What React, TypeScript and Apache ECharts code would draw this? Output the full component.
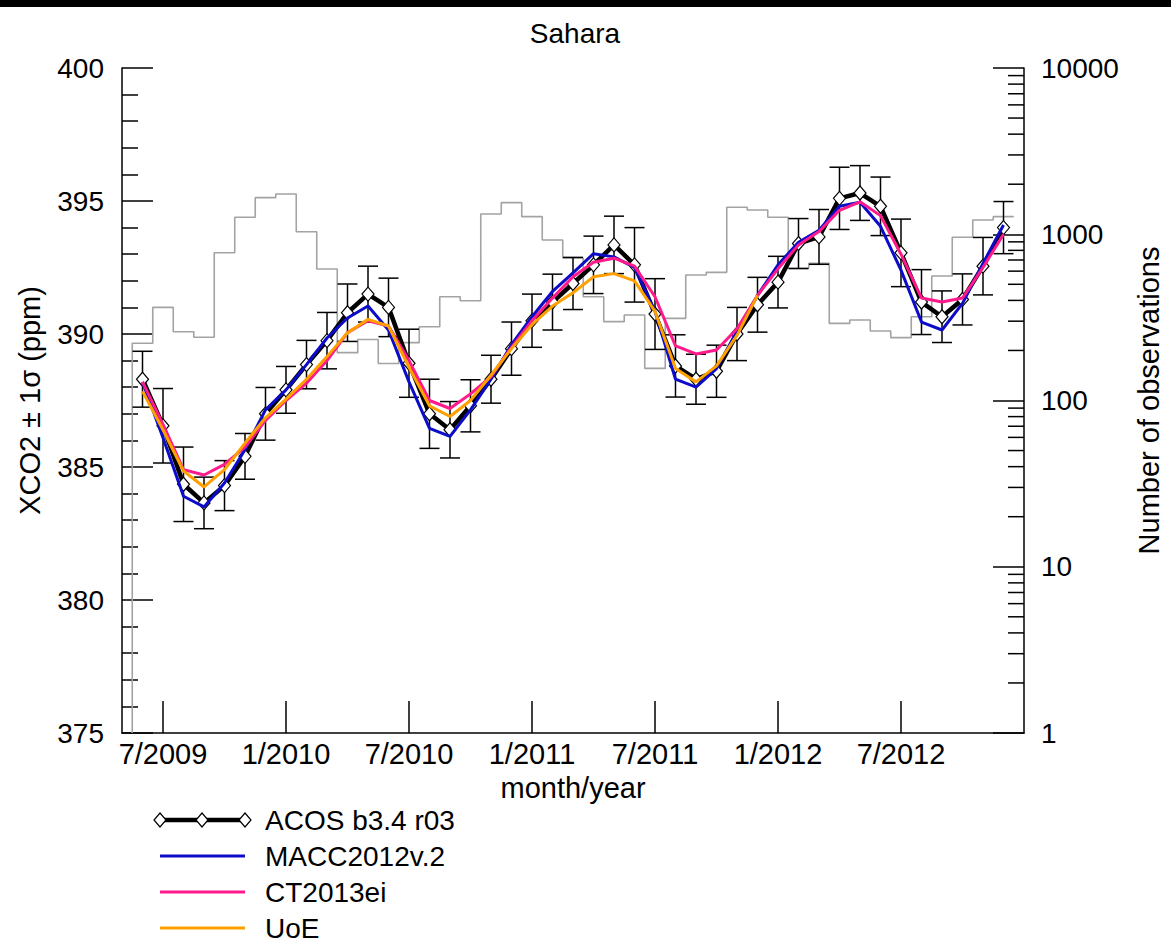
import React, { useEffect, useRef } from "react";
import * as echarts from "echarts";

const FONT = "'Liberation Sans', Arial, Helvetica, sans-serif";

const monthLabels = [
  "6/2009", "7/2009", "8/2009", "9/2009", "10/2009", "11/2009", "12/2009",
  "1/2010", "2/2010", "3/2010", "4/2010", "5/2010", "6/2010", "7/2010", "8/2010", "9/2010", "10/2010", "11/2010", "12/2010",
  "1/2011", "2/2011", "3/2011", "4/2011", "5/2011", "6/2011", "7/2011", "8/2011", "9/2011", "10/2011", "11/2011", "12/2011",
  "1/2012", "2/2012", "3/2012", "4/2012", "5/2012", "6/2012", "7/2012", "8/2012", "9/2012", "10/2012", "11/2012", "12/2012",
];

const acos = [
  388.3, 386.55, 384.35, 383.65, 384.3, 385.4, 387.0,
  387.9, 388.85, 389.75, 390.8, 391.5, 391.0, 388.9, 387.0, 386.4, 387.3, 388.3, 389.45,
  390.5, 391.2, 391.9, 392.6, 393.35, 392.6, 390.75, 388.8, 388.3, 388.6, 390.0, 391.1,
  391.95, 393.4, 393.65, 395.1, 395.3, 394.8, 393.05, 391.2, 390.65, 391.3, 392.55, 394.0,
];

const acosSigma = [
  1.05, 1.4, 1.4, 0.97, 0.94, 0.86, 0.99,
  0.88, 0.91, 1.06, 1.08, 1.05, 1.1, 1.28, 1.3, 1.06, 0.98, 0.9, 1.0,
  1.0, 1.05, 0.98, 1.08, 1.08, 1.4, 1.33, 1.17, 0.94, 0.98, 1.0, 1.03,
  0.97, 0.94, 1.03, 1.17, 1.03, 1.1, 1.27, 1.22, 0.97, 0.96, 1.08, 0.98,
];

const macc = [
  388.2, 386.1, 383.9, 383.5, 384.4, 385.65, 387.15,
  387.9, 388.85, 389.85, 390.6, 391.05, 390.15, 388.2, 386.45, 386.15, 387.15, 388.3, 389.6,
  390.65, 391.6, 392.3, 393.02, 392.9, 392.5, 390.85, 388.3, 388.0, 388.7, 390.1, 391.45,
  392.6, 393.45, 393.9, 394.8, 394.95, 394.05, 392.4, 390.45, 390.15, 391.15, 392.65, 394.1,
];

const ct = [
  388.2, 386.6, 384.9, 384.7, 385.1, 385.75, 386.75,
  387.5, 388.15, 389.0, 390.05, 390.5, 390.3, 389.0, 387.5, 387.2, 387.75, 388.4, 389.5,
  390.5, 391.35, 392.15, 392.7, 392.85, 392.55, 391.4, 389.55, 389.25, 389.4, 390.2, 391.45,
  392.45, 393.35, 393.85, 394.65, 394.97, 394.45, 393.0, 391.35, 391.2, 391.35, 392.5, 393.75,
];

const uoe = [
  387.85, 386.4, 384.85, 384.25, 384.9, 385.9, 386.85,
  387.55, 388.3, 389.15, 390.05, 390.55, 390.3, 388.75, 387.3, 386.9, 387.5, 388.45, 389.45,
  390.35, 391.05, 391.55, 392.15, 392.27, 392.0, 390.85, 388.7, 388.2, 388.8, 389.95, 391.45,
];

const nObs = [
  221, 363, 259, 240, 774, 1265, 1660,
  1746, 1036, 618, 194, 233, 167, 223, 278, 421, 398, 1324, 1549,
  1276, 923, 720, 421, 298, 327, 156, 312, 569, 590, 1453, 1400,
  1265, 624, 668, 291, 305, 262, 239, 319, 561, 959, 1218, 1276,
];

const xTickLabels = ["7/2009", "1/2010", "7/2010", "1/2011", "7/2011", "1/2012", "7/2012"];
const xStart = "5/2009";
const xEnd = "1/2013";

const obsMinorTicks = [
  2, 3, 4, 5, 6, 7, 8, 9,
  20, 30, 40, 50, 60, 70, 80, 90,
  200, 300, 400, 500, 600, 700, 800, 900,
  2000, 3000, 4000, 5000, 6000, 7000, 8000, 9000,
];

function monthIndex(s: string): number {
  const [m, y] = s.split("/").map(Number);
  return (y - 2009) * 12 + (m - 1);
}

const legendItems = [
  { name: "ACOS b3.4 r03", color: "#000000", width: 4.5, diamonds: true },
  { name: "MACC2012v.2", color: "#0c0cc8", width: 3, diamonds: false },
  { name: "CT2013ei", color: "#ff1a8c", width: 3, diamonds: false },
  { name: "UoE", color: "#ffa000", width: 3, diamonds: false },
];

export default function App() {
  const ref = useRef<HTMLDivElement>(null);

  useEffect(() => {
    if (!ref.current) return;
    const chart = echarts.init(ref.current, null, { renderer: "svg" });

    const t = monthLabels.map(monthIndex);
    const xMin = monthIndex(xStart);
    const xMax = monthIndex(xEnd);
    const xTicks = xTickLabels.map(monthIndex);
    const labelFor = (v: number) => {
      const i = xTicks.indexOf(Math.round(v));
      return i >= 0 ? xTickLabels[i] : "";
    };

    const stepData: number[][] = [[t[0] - 0.5, 1]];
    nObs.forEach((v, i) => {
      stepData.push([t[i] - 0.5, v]);
      stepData.push([t[i] + 0.5, v]);
    });

    const errData = acos.map((v, i) => [t[i], v - acosSigma[i], v + acosSigma[i]]);

    const diamond = (x: number, y: number) => ({
      type: "polygon",
      shape: { points: [[x, y - 7], [x + 6, y], [x, y + 7], [x - 6, y]] },
      style: { fill: "#ffffff", stroke: "#000000", lineWidth: 1.2 },
      z: 101,
    });

    const legendGraphics: any[] = [];
    const ly0 = 820;
    const lstep = 36;
    legendItems.forEach((it, i) => {
      const y = ly0 + i * lstep;
      legendGraphics.push({
        type: "line",
        shape: { x1: 160, y1: y, x2: 245, y2: y },
        style: { stroke: it.color, lineWidth: it.width },
        z: 100,
      });
      if (it.diamonds) {
        legendGraphics.push(diamond(160, y), diamond(202, y), diamond(245, y));
      }
      legendGraphics.push({
        type: "text",
        x: 265,
        y: y,
        style: {
          text: it.name,
          font: `28px ${FONT}`,
          fill: "#000",
          textVerticalAlign: "middle",
          textAlign: "left",
        },
        z: 100,
      });
    });

    const option: any = {
      animation: false,
      backgroundColor: "#ffffff",
      grid: { left: 122, right: 143, top: 68, bottom: 218, containLabel: false },
      xAxis: {
        type: "value",
        min: xMin,
        max: xMax,
        name: "month/year",
        nameLocation: "middle",
        nameGap: 40,
        nameTextStyle: { fontFamily: FONT, fontSize: 29, color: "#000" },
        axisLine: { show: true, lineStyle: { color: "#000", width: 1.5 } },
        axisTick: { show: true, inside: true, length: 32, customValues: xTicks, lineStyle: { color: "#000", width: 1.5 } },
        axisLabel: {
          customValues: xTicks,
          formatter: (v: number) => labelFor(v),
          fontFamily: FONT,
          fontSize: 29,
          color: "#000",
          margin: 6,
        },
        splitLine: { show: false },
      },
      yAxis: [
        {
          type: "value",
          min: 375,
          max: 400,
          interval: 5,
          position: "left",
          name: "XCO2 ± 1σ (ppm)",
          nameLocation: "middle",
          nameGap: 78,
          nameTextStyle: { fontFamily: FONT, fontSize: 29, color: "#000" },
          axisLine: { show: true, lineStyle: { color: "#000", width: 1.5 } },
          axisTick: { show: true, inside: true, length: 31, lineStyle: { color: "#000", width: 1.5 } },
          minorTick: { show: true, splitNumber: 5, length: 16, lineStyle: { color: "#000", width: 1.5 } },
          axisLabel: { fontFamily: FONT, fontSize: 28, color: "#000", margin: 18 },
          splitLine: { show: false },
        },
        {
          type: "log",
          logBase: 10,
          min: 1,
          max: 10000,
          position: "right",
          name: "Number of observations",
          nameLocation: "middle",
          nameGap: 110,
          nameRotate: 90,
          nameTextStyle: { fontFamily: FONT, fontSize: 29, color: "#000" },
          axisLine: { show: true, lineStyle: { color: "#000", width: 1.5 } },
          axisTick: { show: true, inside: true, length: 31, lineStyle: { color: "#000", width: 1.5 } },
          axisLabel: {
            fontFamily: FONT,
            fontSize: 28,
            color: "#000",
            margin: 17,
            formatter: (v: number) => String(Math.round(v)),
          },
          splitLine: { show: false },
        },
      ],
      graphic: [
        { type: "rect", shape: { x: 0, y: 0, width: 1171, height: 7 }, style: { fill: "#000" }, z: 100 },
        {
          type: "text",
          x: 575,
          y: 33,
          style: {
            text: "Sahara",
            font: `28px ${FONT}`,
            fill: "#000",
            textAlign: "center",
            textVerticalAlign: "middle",
          },
          z: 100,
        },
        ...legendGraphics,
      ],
      series: [
        {
          name: "Number of observations",
          type: "line",
          yAxisIndex: 1,
          data: stepData,
          showSymbol: false,
          lineStyle: { color: "#a3a3a3", width: 1.6 },
          z: 1,
          silent: true,
        },
        {
          name: "minor ticks",
          type: "custom",
          yAxisIndex: 1,
          data: obsMinorTicks.map((v) => [xMax, v]),
          silent: true,
          z: 5,
          renderItem: (params: any, api: any) => {
            const p = api.coord([api.value(0), api.value(1)]);
            return {
              type: "line",
              shape: { x1: p[0], y1: p[1], x2: p[0] - 16, y2: p[1] },
              style: { stroke: "#000", lineWidth: 1.5 },
            };
          },
        },
        {
          name: "error",
          type: "custom",
          yAxisIndex: 0,
          data: errData,
          silent: true,
          z: 2,
          encode: { x: 0, y: [1, 2] },
          renderItem: (params: any, api: any) => {
            const lo = api.coord([api.value(0), api.value(1)]);
            const hi = api.coord([api.value(0), api.value(2)]);
            const w = 10;
            const st = { stroke: "#000", lineWidth: 1.5 };
            return {
              type: "group",
              children: [
                { type: "line", shape: { x1: lo[0], y1: lo[1], x2: hi[0], y2: hi[1] }, style: st },
                { type: "line", shape: { x1: lo[0] - w, y1: lo[1], x2: lo[0] + w, y2: lo[1] }, style: st },
                { type: "line", shape: { x1: hi[0] - w, y1: hi[1], x2: hi[0] + w, y2: hi[1] }, style: st },
              ],
            };
          },
        },
        {
          name: "ACOS b3.4 r03",
          type: "line",
          yAxisIndex: 0,
          data: acos.map((v, i) => [t[i], v]),
          symbol: "diamond",
          symbolSize: [12, 14],
          showAllSymbol: true,
          itemStyle: { color: "#ffffff", borderColor: "#000", borderWidth: 1.2 },
          lineStyle: { color: "#000", width: 4.5 },
          z: 3,
        },
        {
          name: "MACC2012v.2",
          type: "line",
          yAxisIndex: 0,
          data: macc.map((v, i) => [t[i], v]),
          showSymbol: false,
          lineStyle: { color: "#0c0cc8", width: 3 },
          z: 4,
        },
        {
          name: "CT2013ei",
          type: "line",
          yAxisIndex: 0,
          data: ct.map((v, i) => [t[i], v]),
          showSymbol: false,
          lineStyle: { color: "#ff1a8c", width: 3 },
          z: 5,
        },
        {
          name: "UoE",
          type: "line",
          yAxisIndex: 0,
          data: uoe.map((v, i) => [t[i], v]),
          showSymbol: false,
          lineStyle: { color: "#ffa000", width: 3 },
          z: 6,
        },
      ],
    };

    chart.setOption(option);
    return () => chart.dispose();
  }, []);

  return (
    <div
      ref={ref}
      style={{ position: "absolute", left: 0, top: 0, width: 1171, height: 951, background: "#fff" }}
    />
  );
}
